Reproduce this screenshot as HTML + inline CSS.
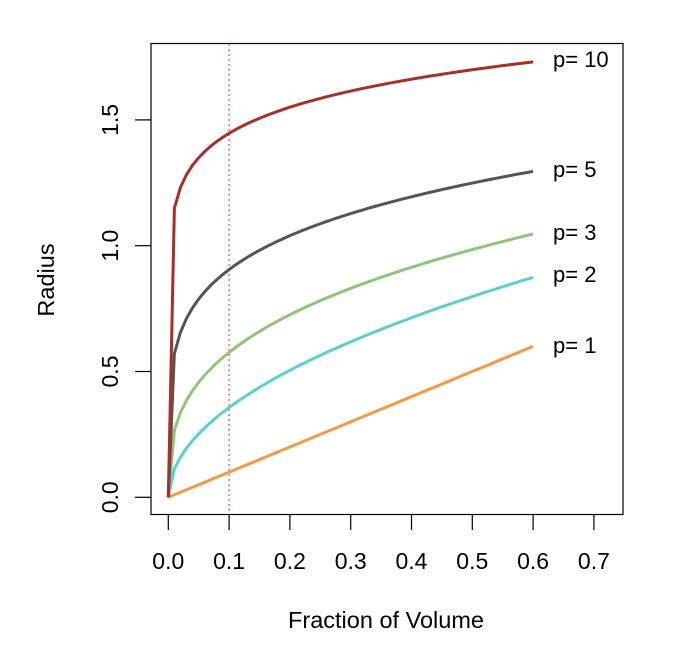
<!DOCTYPE html>
<html><head><style>body{margin:0;background:#fff}svg{display:block}text{font-family:"Liberation Sans",Arial,sans-serif;fill:#000}</style></head>
<body>
<svg id="s" width="698" height="672" xmlns="http://www.w3.org/2000/svg">
<rect x="151" y="43.5" width="472" height="471" fill="none" stroke="#000" stroke-width="1.2"/>
<line x1="229.1" y1="44" x2="229.1" y2="514" stroke="#e8484a" stroke-width="1.2" stroke-dasharray="2,3"/>
<g id="ax" stroke="#000" stroke-width="1.2"></g>
<g id="curves" fill="none" stroke-width="3"></g>
<g font-size="22">
<text x="553" y="67">p= 10</text>
<text x="553" y="177">p= 5</text>
<text x="553" y="240">p= 3</text>
<text x="553" y="282">p= 2</text>
<text x="553" y="353">p= 1</text>
</g>
<text x="386" y="628" font-size="23.5" text-anchor="middle">Fraction of Volume</text>
<text transform="translate(54,280) rotate(-90)" font-size="23.5" text-anchor="middle">Radius</text>
<g id="lbl" font-size="23"></g>
</svg>
<script>
var X=function(v){return 168.3+v*608};var Y=function(r){return 497.3-r*251.6};
var ns="http://www.w3.org/2000/svg";
function el(t,a,p,txt){var e=document.createElementNS(ns,t);for(var k in a)e.setAttribute(k,a[k]);if(txt!==undefined)e.textContent=txt;document.getElementById(p).appendChild(e);}
for(var i=0;i<=7;i++){var x=X(i/10);el("line",{x1:x,y1:514,x2:x,y2:530},"ax");el("text",{x:x,y:569,"text-anchor":"middle"},"lbl",(i/10).toFixed(1));}
for(var i=0;i<=3;i++){var y=Y(i*0.5);el("line",{x1:135,y1:y,x2:151,y2:y},"ax");el("text",{transform:"translate(118,"+y+") rotate(-90)","text-anchor":"middle"},"lbl",(i*0.5).toFixed(1));}
function gam(z){if(z===1)return 1;if(z===0.5)return Math.sqrt(Math.PI);return (z-1)*gam(z-1);}
var ps=[[1,"#f29a45"],[2,"#5ccfcf"],[3,"#8ec57a"],[5,"#555555"],[10,"#a8302a"]];
ps.forEach(function(q){var p=q[0];var C=Math.pow(Math.PI,p/2)/gam(p/2+1)/Math.pow(2,p);var d="";
for(var j=0;j<=60;j++){var v=j/100;var r=Math.pow(v/C,1/p);d+=(j?"L":"M")+X(v).toFixed(2)+","+Y(r).toFixed(2);}
el("path",{d:d,stroke:q[1]},"curves");});
</script>
</body></html>
